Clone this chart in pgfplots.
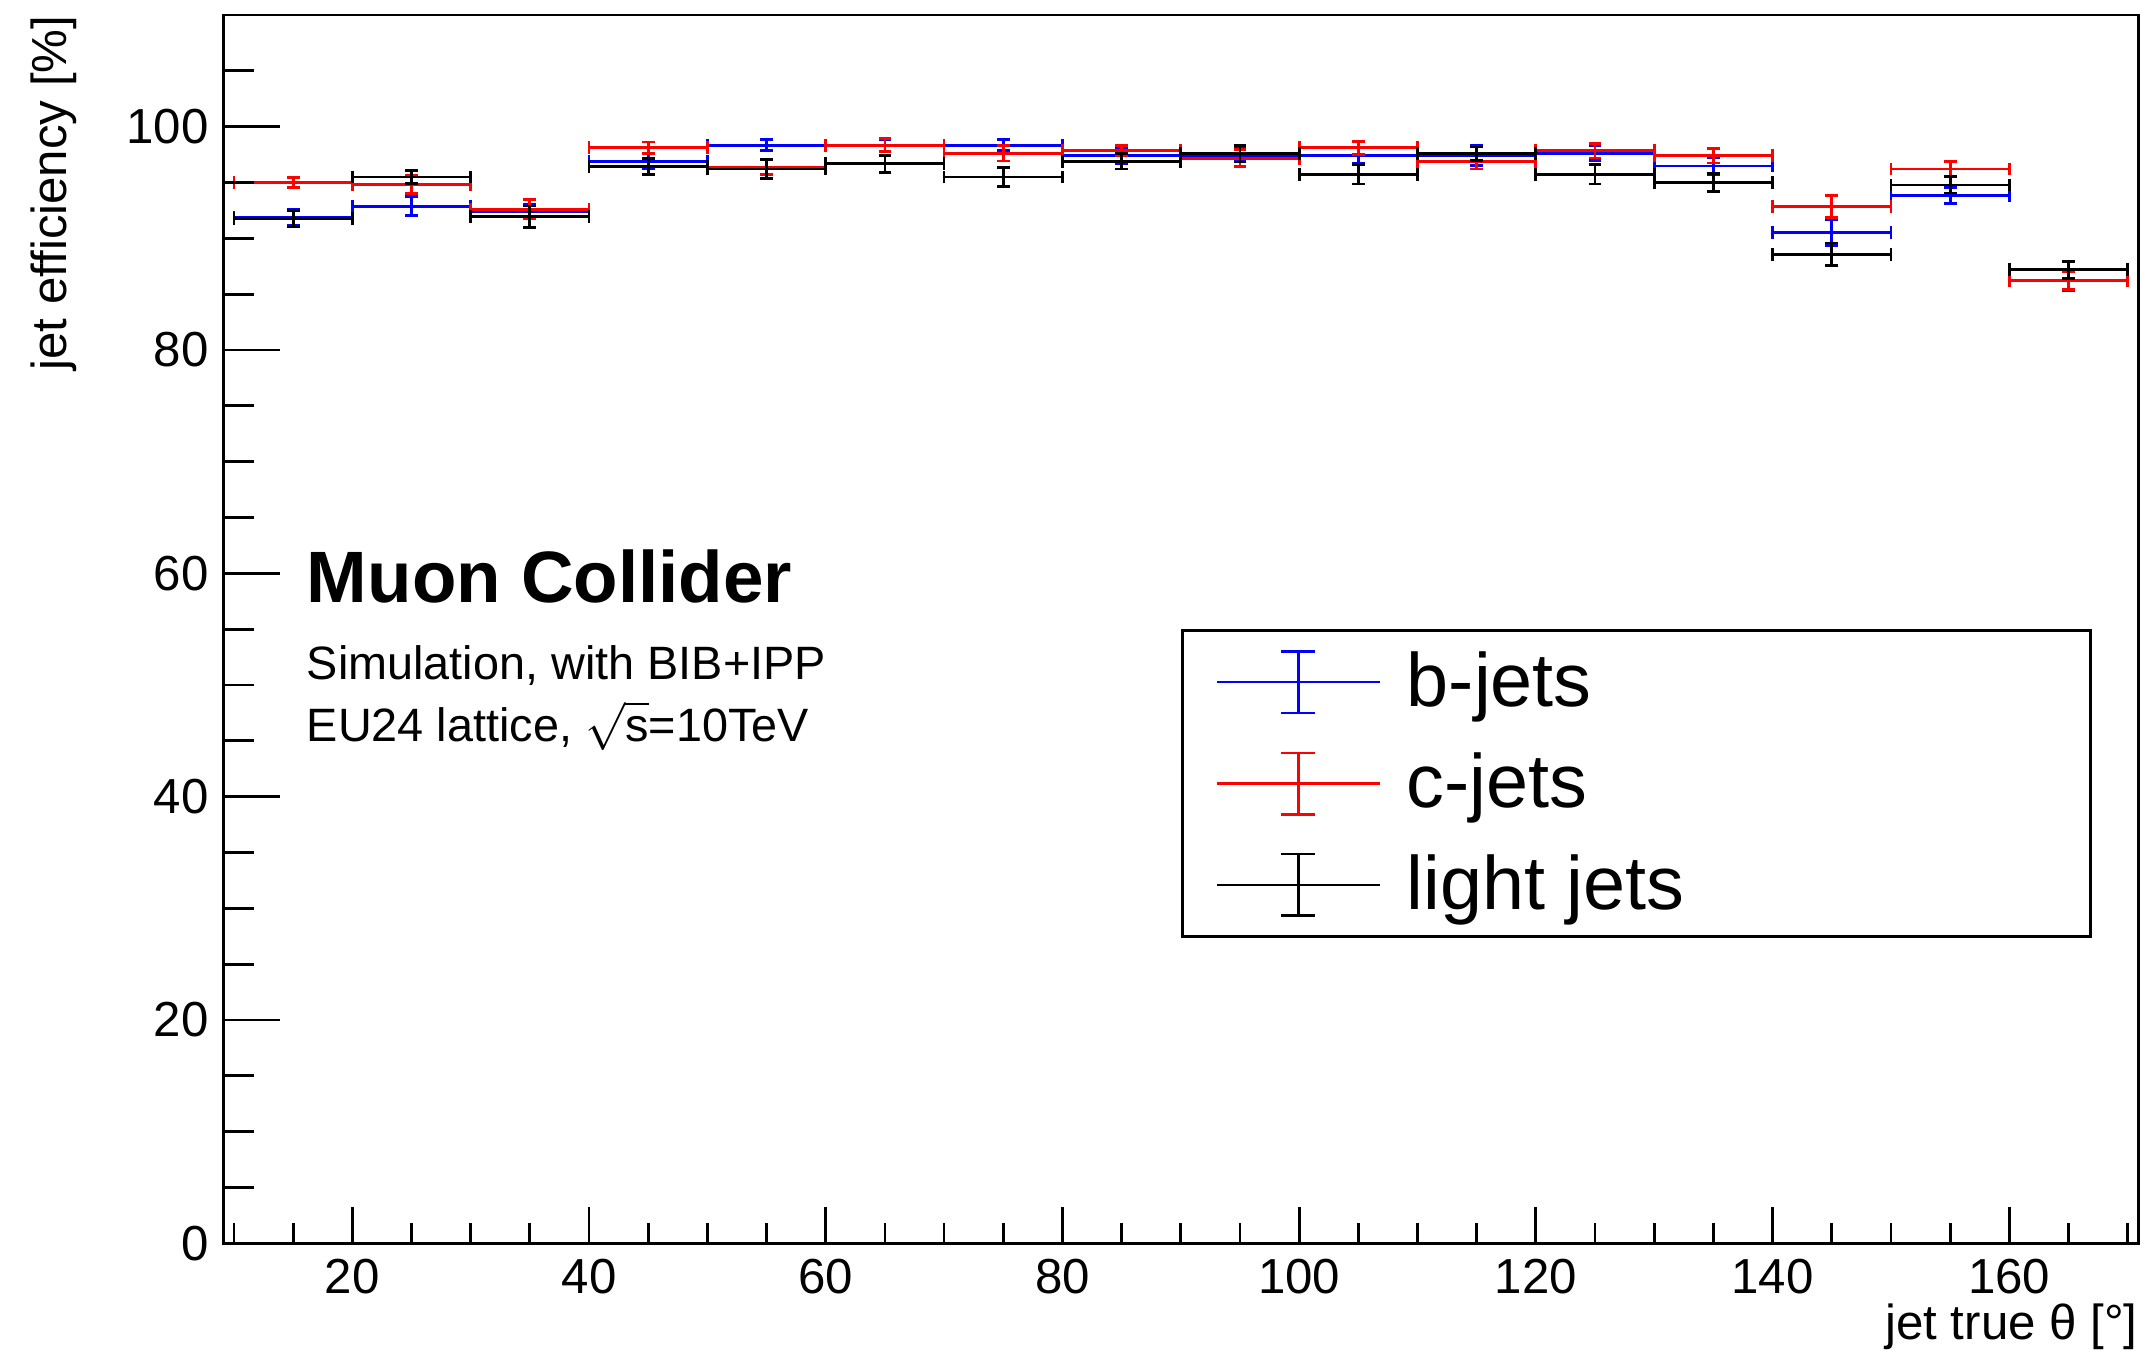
\documentclass[border=0pt]{standalone}
\usepackage{fontspec}
\setmainfont{Liberation Sans}
\usepackage{pgfplots}
\pgfplotsset{compat=1.18}
\usepackage{pgfplotstable}

\pgfplotstableread{
x y ex ey
15 91.87 5 0.71
25 92.88 5 0.86
35 92.43 5 0.65
45 96.91 5 0.64
55 98.34 5 0.49
65 98.30 5 0.50
75 98.34 5 0.50
85 97.39 5 0.74
95 97.45 5 0.60
105 97.39 5 0.70
115 97.39 5 0.90
125 97.63 5 0.65
135 96.47 5 0.74
145 90.50 5 1.15
155 93.83 5 0.73
165 86.20 5 0.85
}\bjets

\pgfplotstableread{
x y ex ey
15 95.01 5 0.47
25 94.81 5 0.80
35 92.61 5 0.85
45 98.13 5 0.50
55 96.38 5 0.68
65 98.34 5 0.60
75 97.63 5 0.70
85 97.86 5 0.45
95 97.18 5 0.75
105 98.10 5 0.60
115 96.91 5 0.70
125 97.83 5 0.64
135 97.39 5 0.65
145 92.85 5 1.00
155 96.20 5 0.65
165 86.20 5 0.80
}\cjets

\pgfplotstableread{
x y ex ey
15 91.75 5 0.73
25 95.49 5 0.60
35 91.93 5 0.96
45 96.44 5 0.74
55 96.20 5 0.86
65 96.68 5 0.77
75 95.49 5 0.83
85 96.91 5 0.70
95 97.57 5 0.73
105 95.73 5 0.86
115 97.57 5 0.60
125 95.73 5 0.86
135 95.01 5 0.80
145 88.58 5 1.00
155 94.78 5 0.73
165 87.18 5 0.75
}\ljets

\begin{document}
\begin{tikzpicture}
\pgfplotsset{
  common/.style={
    scale only axis, width=478.75pt, height=307.075pt,
    at={(0,0)}, anchor=south west,
    xmin=9.1, xmax=170.9, ymin=0, ymax=110,
    tick align=inside,
    axis line style={line width=0.7pt},
    every tick/.style={black, line width=0.7pt},
    ticklabel style={font=\fontsize{12.3pt}{14pt}\selectfont},
    /pgf/number format/assume math mode=true,
  },
  errplot/.style={only marks, mark=text, text mark={}, color=#1,
    legend image code/.code={
      \draw[#1, line width=0.6pt] (0pt,0pt) -- (40.75pt,0pt);
      \draw[#1, line width=0.6pt] (20.25pt,-7.7pt) -- (20.25pt,7.7pt);
      \draw[#1, line width=0.6pt] (16pt,-7.7pt) -- (24.5pt,-7.7pt);
      \draw[#1, line width=0.6pt] (16pt,7.7pt) -- (24.5pt,7.7pt);},
    error bars/.cd, x dir=both, x explicit, y dir=both, y explicit,
    error mark=-,
    error bar style={line width=0.7pt, #1},
    error mark options={rotate=90, line width=0.7pt, mark size=1.6pt, #1}},
}
\begin{axis}[common,
  xtick={20,40,...,160}, minor xtick={10,15,...,170},
  ytick=\empty,
  xtick pos=lower,
  major tick length=9pt, minor tick length=5pt,
  xticklabel style={inner sep=0pt, anchor=north, yshift=-3.75pt},
  xlabel={jet true θ [°]},
  xlabel style={at={(axis description cs:1,-0.0485)}, anchor=north east, inner sep=0pt, font=\fontsize{12.3pt}{14pt}\selectfont},
  legend cell align=left,
  legend style={at={(axis cs:90,55.0)}, anchor=north west, draw=black, line width=0.7pt,
    inner xsep=8.5pt, inner ysep=3.3pt, row sep=6.15pt,
    font=\fontsize{18.9pt}{22pt}\selectfont,
    /tikz/every odd column/.append style={column sep=4.3pt}},
]
\addplot[errplot=blue] table[x=x, y=y, x error=ex, y error=ey]{\bjets};
\addlegendentry{\makebox[160.5pt][l]{b-jets}}
\addplot[errplot=red] table[x=x, y=y, x error=ex, y error=ey]{\cjets};
\addlegendentry{\makebox[160.5pt][l]{c-jets}}
\addplot[errplot=black] table[x=x, y=y, x error=ex, y error=ey]{\ljets};
\addlegendentry{\makebox[160.5pt][l]{light jets}}
\node[anchor=base west, inner sep=0pt, font=\bfseries\fontsize{18.2pt}{20pt}\selectfont] at (axis cs:16.1,57.39) {Muon Collider};
\node[anchor=base west, inner sep=0pt, font=\fontsize{11.7pt}{13pt}\selectfont] at (axis cs:16.1,50.5) {Simulation, with BIB+IPP};
\node[anchor=base west, inner sep=0pt, font=\fontsize{11.7pt}{13pt}\selectfont] at (axis cs:16.1,44.97) {EU24 lattice, $\sqrt{\mbox{s}}$=10TeV};
\end{axis}
\begin{axis}[common,
  hide x axis,
  axis y line*=left,
  ytick={0,20,...,100}, minor ytick={0,5,...,105},
  major tick length=14.2pt, minor tick length=7.6pt,
  yticklabel style={inner sep=0pt, anchor=east, xshift=-3.5pt},
  ylabel={jet efficiency [\%]},
  ylabel style={at={(axis description cs:-0.0884,1)}, anchor=east, rotate=0, inner sep=0pt, font=\fontsize{12.3pt}{14pt}\selectfont},
]
\end{axis}
\pgfresetboundingbox
\path (-55.825pt,-28.175pt) rectangle (480.675pt,310.825pt);
\end{tikzpicture}
\end{document}
